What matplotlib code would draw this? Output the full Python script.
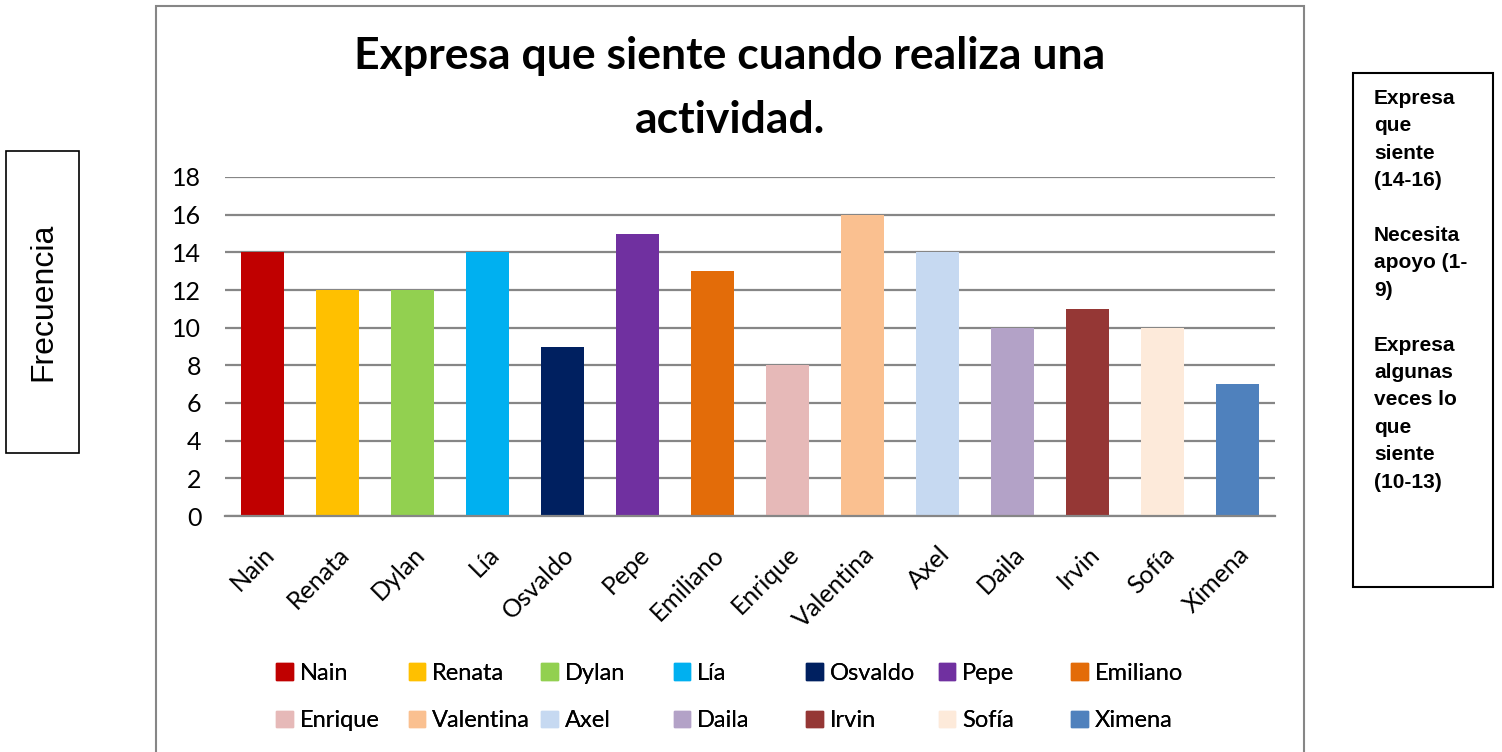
import matplotlib
matplotlib.use("Agg")
import matplotlib.pyplot as plt
from matplotlib.patches import Rectangle, Patch

# datos
nombres = ["Nain", "Renata", "Dylan", "Lía", "Osvaldo", "Pepe", "Emiliano",
           "Enrique", "Valentina", "Axel", "Daila", "Irvin", "Sofía", "Ximena"]
frecuencia = [14, 12, 12, 14, 9, 15, 13, 8, 16, 14, 10, 11, 10, 7]
colores = ["#C00000", "#FFC000", "#92D050", "#00B0F0", "#002060", "#7030A0", "#E36C09",
           "#E6B9B8", "#FAC090", "#C6D9F1", "#B3A2C7", "#953735", "#FDEADA", "#4F81BD"]
y_ticks = [0, 2, 4, 6, 8, 10, 12, 14, 16, 18]
titulo = "Expresa que siente cuando realiza una\nactividad."
nota = ("Expresa\nque\nsiente\n(14-16)\n\nNecesita\napoyo (1-\n9)\n\n"
        "Expresa\nalgunas\nveces lo\nque\nsiente\n(10-13)")

W, H = 1502, 752
fig = plt.figure(figsize=(W / 100, H / 100), dpi=100)
fig.patch.set_facecolor("white")

def fx(px):
    return px / W

def fy(py):
    return 1 - py / H

ax = fig.add_axes([fx(225), fy(516), fx(1275) - fx(225), fy(177) - fy(516)])
x = range(len(nombres))
ax.bar(x, frecuencia, width=0.57, color=colores, zorder=3)
ax.set_xlim(-0.5, len(nombres) - 0.5)
ax.set_ylim(0, 18)
ax.set_yticks(y_ticks)
ax.yaxis.grid(True, color="#868686", lw=1.6, zorder=0)
for s in ["top", "right", "left"]:
    ax.spines[s].set_visible(False)
ax.spines["bottom"].set_color("#868686")
ax.spines["bottom"].set_linewidth(1.6)
ax.spines["bottom"].set_zorder(4)
ax.tick_params(axis="y", length=0, pad=17, labelsize=18)
ax.tick_params(axis="x", length=0, pad=19, labelsize=18)
for t in ax.get_yticklabels():
    t.set_fontfamily("Lato")
ax.set_xticks(list(x))
ax.set_xticklabels(nombres, rotation=45, ha="right", va="top",
                   rotation_mode="anchor", fontfamily="Lato")

fig.text(fx(730), fy(88), titulo, ha="center", va="center", fontsize=32,
         fontweight="bold", fontfamily="Lato", linespacing=1.7)

# marco del grafico
fig.add_artist(Rectangle((fx(156), -0.1), fx(1304) - fx(156), fy(6) + 0.1,
                         transform=fig.transFigure, fill=False,
                         edgecolor="#868686", lw=1.5))

# leyenda en columnas de igual ancho
for i in range(7):
    handles = [Patch(color=colores[i]), Patch(color=colores[i + 7])]
    leg = fig.legend(handles, [nombres[i], nombres[i + 7]],
                     loc="upper left", bbox_to_anchor=(fx(276 + 132.5 * i), fy(663)),
                     frameon=False, borderpad=0, borderaxespad=0,
                     handlelength=0.7, handleheight=0.7, handletextpad=0.3,
                     labelspacing=1.12, prop={"family": "Lato", "size": 17})
    fig.add_artist(leg)

# cuadro "Frecuencia"
fig.add_artist(Rectangle((fx(6), fy(453)), fx(79) - fx(6), fy(151) - fy(453),
                         transform=fig.transFigure, fill=False, edgecolor="black", lw=1.2))
fig.text(fx(43), fy(302), "Frecuencia", rotation=90, ha="center", va="center",
         fontsize=23, fontfamily="Liberation Sans")

# cuadro de notas
fig.add_artist(Rectangle((fx(1353), fy(587)), fx(1493) - fx(1353), fy(73) - fy(587),
                         transform=fig.transFigure, fill=False, edgecolor="black", lw=1.5))
fig.text(fx(1374), fy(89), nota, ha="left", va="top", fontsize=15,
         fontweight="bold", fontfamily="Liberation Sans", linespacing=1.56)

fig.savefig("out.png", dpi=100)
